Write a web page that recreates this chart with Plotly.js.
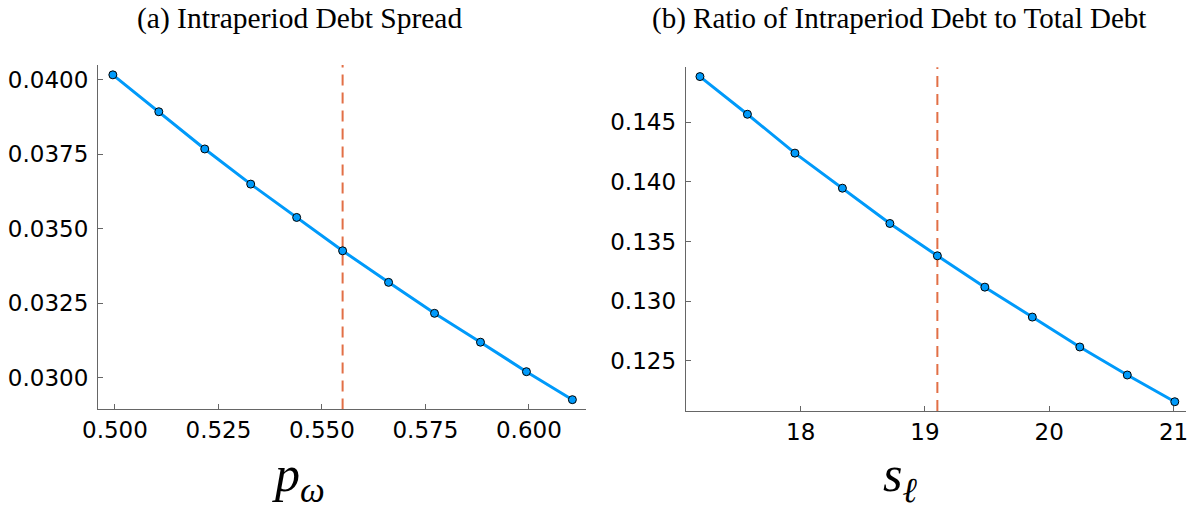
<!DOCTYPE html>
<html>
<head>
<meta charset="utf-8">
<script src="https://cdn.plot.ly/plotly-3.0.1.min.js"></script>
<style>html,body{margin:0;padding:0;background:#fff;}#chart{width:1196px;height:509px;}</style>
</head>
<body>
<div id="chart"></div>
<script>
// Panel (a): intraperiod debt spread vs p_omega
const pOmega = [0.4995, 0.5106, 0.5217, 0.5328, 0.5439, 0.5550, 0.5661, 0.5772, 0.5883, 0.5994, 0.6105];
const spread = [0.04017, 0.03893, 0.03768, 0.03650, 0.03538, 0.03426, 0.03320, 0.03216, 0.03119, 0.03020, 0.02926];
const pOmegaBase = 0.5550;

// Panel (b): ratio of intraperiod debt to total debt vs s_ell
const sEll = [17.190, 17.572, 17.954, 18.336, 18.718, 19.100, 19.482, 19.864, 20.246, 20.628, 21.010];
const ratio = [0.14883, 0.14567, 0.14241, 0.13947, 0.13651, 0.13380, 0.13117, 0.12866, 0.12615, 0.12380, 0.12156];
const sEllBase = 19.10;

const ticksA_x = [0.500, 0.525, 0.550, 0.575, 0.600];
const ticksA_xt = ["0.500", "0.525", "0.550", "0.575", "0.600"];
const ticksA_y = [0.0300, 0.0325, 0.0350, 0.0375, 0.0400];
const ticksA_yt = ["0.0300", "0.0325", "0.0350", "0.0375", "0.0400"];
const ticksB_x = [18, 19, 20, 21];
const ticksB_xt = ["18", "19", "20", "21"];
const ticksB_y = [0.125, 0.130, 0.135, 0.140, 0.145];
const ticksB_yt = ["0.125", "0.130", "0.135", "0.140", "0.145"];

const titles = ["(a) Intraperiod Debt Spread", "(b) Ratio of Intraperiod Debt to Total Debt"];
const xLabels = ["<i>p</i><sub><i>ω</i></sub>", "<i>s</i><sub><i>ℓ</i></sub>"];

const BLUE = "#009AFA";
const RED = "#E26F46";
const tickFont = {family: "DejaVu Sans", size: 23, color: "#000"};

function lineTrace(x, y, xa, ya) {
  return {
    x: x, y: y, xaxis: xa, yaxis: ya, type: "scatter", mode: "lines+markers",
    line: {color: BLUE, width: 3},
    marker: {color: BLUE, size: 8, line: {color: "#000", width: 1}},
    showlegend: false, hoverinfo: "x+y"
  };
}

const axisCommon = {
  showgrid: false, zeroline: false, showline: true, linecolor: "#666", linewidth: 1,
  ticks: "inside", ticklen: 5, tickwidth: 1, tickcolor: "#666",
  tickfont: tickFont, tickmode: "array", mirror: false, fixedrange: true
};

const data = [
  lineTrace(pOmega, spread, "x", "y"),
  lineTrace(sEll, ratio, "x2", "y2")
];

const layout = {
  width: 1196, height: 509,
  margin: {l: 0, r: 0, t: 0, b: 0},
  paper_bgcolor: "#fff", plot_bgcolor: "#fff",
  xaxis: Object.assign({}, axisCommon, {domain: [0.0819, 0.490], range: [0.4959, 0.6138], tickvals: ticksA_x, ticktext: ticksA_xt, anchor: "y"}),
  yaxis: Object.assign({}, axisCommon, {domain: [0.1955, 0.8723], range: [0.02893, 0.04050], tickvals: ticksA_y, ticktext: ticksA_yt, anchor: "x", ticklabelstandoff: 4}),
  xaxis2: Object.assign({}, axisCommon, {domain: [0.5733, 0.9916], range: [17.075, 21.10], tickvals: ticksB_x, ticktext: ticksB_xt, anchor: "y2"}),
  yaxis2: Object.assign({}, axisCommon, {domain: [0.1925, 0.8678], range: [0.12078, 0.14961], tickvals: ticksB_y, ticktext: ticksB_yt, anchor: "x2", ticklabelstandoff: 4}),
  shapes: [
    {type: "line", xref: "x", yref: "y domain", x0: pOmegaBase, x1: pOmegaBase, y0: 0, y1: 1,
     line: {color: RED, width: 2, dash: "11px,7px"}, layer: "below"},
    {type: "line", xref: "x2", yref: "y2 domain", x0: sEllBase, x1: sEllBase, y0: 0, y1: 1,
     line: {color: RED, width: 2, dash: "11px,7px"}, layer: "below"}
  ],
  annotations: [
    {text: titles[0], xref: "paper", yref: "paper", x: 299/1196, y: 1 - 19/509, xanchor: "center", yanchor: "middle",
     showarrow: false, font: {family: "Liberation Serif", size: 29.5, color: "#000"}},
    {text: titles[1], xref: "paper", yref: "paper", x: 899/1196, y: 1 - 19/509, xanchor: "center", yanchor: "middle",
     showarrow: false, font: {family: "Liberation Serif", size: 29, color: "#000"}},
    {text: xLabels[0], xref: "paper", yref: "paper", x: 298/1196, y: 1 - 478/509, xanchor: "center", yanchor: "middle",
     showarrow: false, font: {family: "Liberation Serif", size: 50, color: "#000"}},
    {text: xLabels[1], xref: "paper", yref: "paper", x: 900/1196, y: 1 - 478/509, xanchor: "center", yanchor: "middle",
     showarrow: false, font: {family: "Liberation Serif", size: 50, color: "#000"}}
  ]
};

Plotly.newPlot("chart", data, layout, {staticPlot: true, displayModeBar: false});
</script>
</body>
</html>
